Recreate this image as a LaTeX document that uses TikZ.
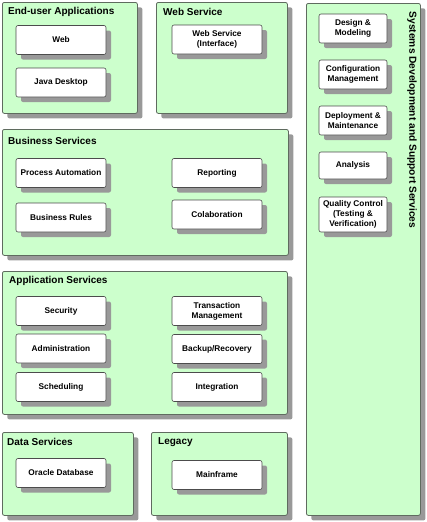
\documentclass[tikz,border=0pt]{standalone}
\usepackage{fontspec}
\setmainfont{Liberation Sans}
\usetikzlibrary{shadows}
\definecolor{panelgreen}{HTML}{CCFFCC}
\definecolor{shadowgray}{HTML}{999999}
\definecolor{edgegray}{HTML}{5F6B5F}
\begin{document}
\begin{tikzpicture}[x=1pt,y=-1pt]
\useasboundingbox[fill=white] (0,0) rectangle (426,522);
\tikzset{
  panel/.style={draw=edgegray, fill=panelgreen, rounded corners=2pt, line width=0.8pt,
    drop shadow={shadow xshift=5pt, shadow yshift=-5pt, fill=shadowgray, opacity=1},
    anchor=north west, inner sep=0pt},
  item/.style={draw=black!70, fill=white, rounded corners=2pt, line width=0.6pt,
    drop shadow={shadow xshift=5pt, shadow yshift=-5pt, fill=shadowgray, opacity=1},
    minimum width=90pt, minimum height=29pt, align=center, inner sep=1pt,
    font=\bfseries\fontsize{8.3}{9.8}\selectfont},
  sitem/.style={item, minimum width=68pt},
  ptitle/.style={font=\bfseries\fontsize{10}{12}\selectfont, anchor=west, inner sep=0pt}
}
% panels
\node[panel, minimum width=135pt, minimum height=111pt] (enduser) at (2,2) {};
\node[panel, minimum width=131pt, minimum height=111pt] (websvc) at (156,2) {};
\node[panel, minimum width=114pt, minimum height=512pt] (sysdev) at (306,3) {};
\node[panel, minimum width=286pt, minimum height=126pt] (business) at (2,129) {};
\node[panel, minimum width=285pt, minimum height=143pt] (appsvc) at (2,271) {};
\node[panel, minimum width=131pt, minimum height=83pt] (data) at (2,432) {};
\node[panel, minimum width=136pt, minimum height=83pt] (legacy) at (151,432) {};
% titles
\node[ptitle] (t1) at (8,12) {End-user Applications};
\node[ptitle] (t2) at (163,12) {Web Service};
\node[ptitle] (t3) at (8,141) {Business Services};
\node[ptitle] (t4) at (9,281) {Application Services};
\node[ptitle] (t5) at (7,442) {Data Services};
\node[ptitle] (t6) at (158,442) {Legacy};
\node[font=\bfseries\fontsize{10.2}{12}\selectfont, rotate=-90, inner sep=0pt] (t7) at (412,120) {Systems Development and Support Services};
% end-user
\node[item] (web) at (61,40) {Web};
\node[item] (java) at (61,82.5) {Java Desktop};
\node[item] (wsi) at (217,39.5) {Web Service\\(Interface)};
% sysdev
\node[sitem] (design) at (353,28.5) {Design \&\\Modeling};
\node[sitem] (config) at (353,74.5) {Configuration\\Management};
\node[sitem] (deploy) at (353,120.5) {Deployment \&\\Maintenance};
\node[sitem, minimum height=27pt] (analysis) at (353,165.5) {Analysis};
\node[sitem, minimum height=35pt] (quality) at (353,214.5) {Quality Control\\(Testing \&\\Verification)};
% business
\node[item] (procauto) at (61,173) {Process Automation};
\node[item] (busrules) at (61,217.5) {Business Rules};
\node[item] (reporting) at (217,173) {Reporting};
\node[item] (colab) at (217,214.5) {Colaboration};
% application
\node[item] (security) at (61,311) {Security};
\node[item] (admin) at (61,348.5) {Administration};
\node[item] (sched) at (61,387) {Scheduling};
\node[item] (trans) at (217,311) {Transaction\\Management};
\node[item] (backup) at (217,349) {Backup/Recovery};
\node[item] (integ) at (217,387) {Integration};
% data / legacy
\node[item] (oracle) at (61,473) {Oracle Database};
\node[item] (mainframe) at (217,475) {Mainframe};
\end{tikzpicture}
\end{document}
